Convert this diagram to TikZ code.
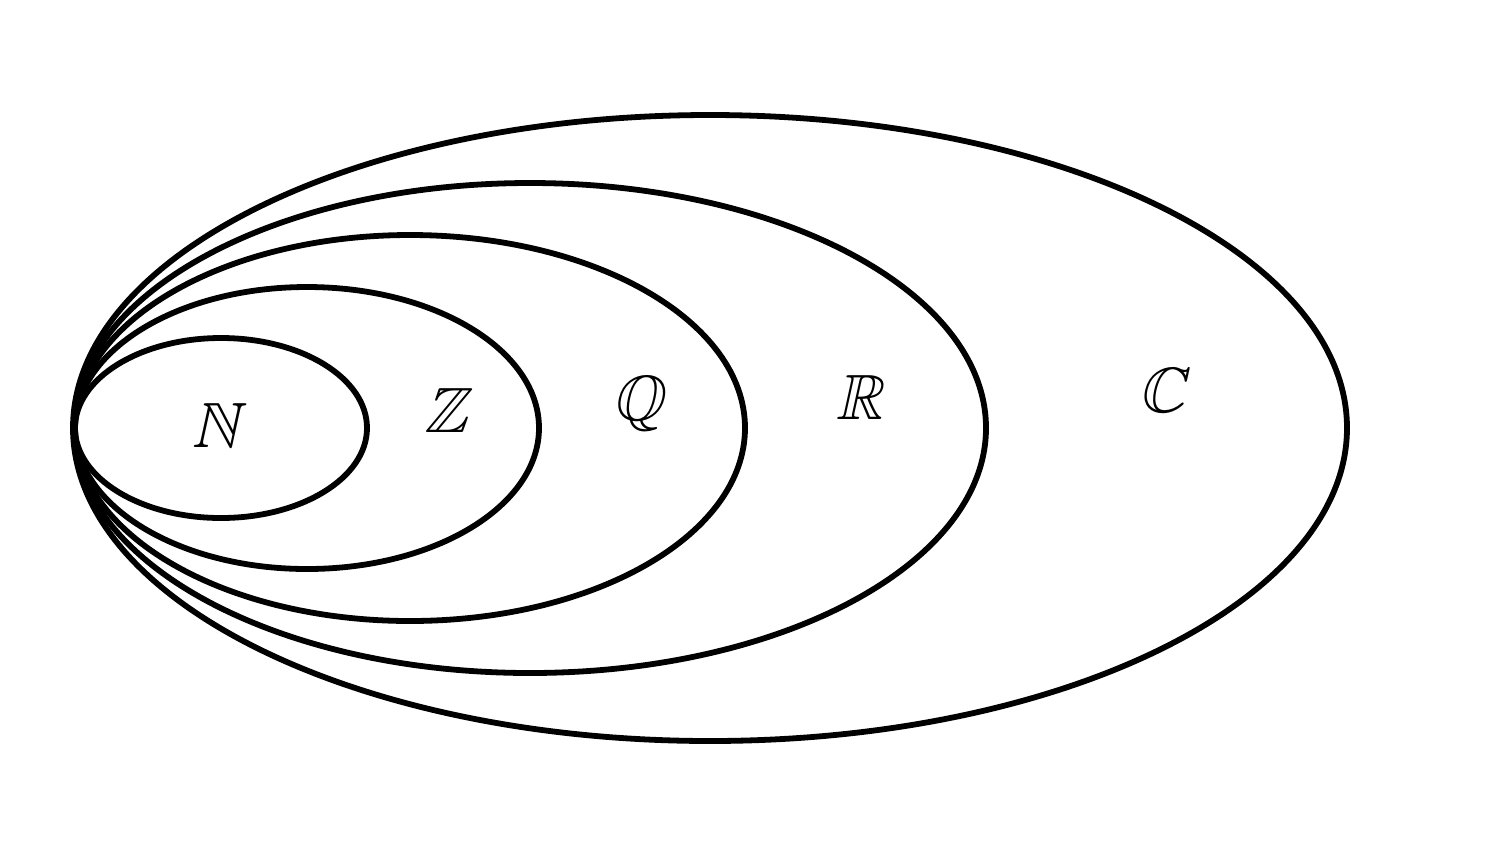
\documentclass[tikz,border=0pt]{standalone}
\usepackage{amssymb}
\begin{document}
\begin{tikzpicture}[x=0.5pt,y=-0.5pt,
  setline/.style={line width=2.9pt,black},
  setlabel/.style={inner sep=0pt,font=\fontsize{32}{36}\selectfont,xslant=0.22}]
\useasboundingbox (0,0) rectangle (1488,858);
\draw[setline] (221,428) ellipse [x radius=146, y radius=90];
\draw[setline] (307,428) ellipse [x radius=232, y radius=141];
\draw[setline] (410,428) ellipse [x radius=335, y radius=193];
\draw[setline] (530,428) ellipse [x radius=456, y radius=245];
\draw[setline] (710,428) ellipse [x radius=637, y radius=313];
\node[setlabel] (N) at (220,425) {$\mathbb{N}$};
\node[setlabel] (Z) at (451,410) {$\mathbb{Z}$};
\node[setlabel] (Q) at (641,404) {$\mathbb{Q}$};
\node[setlabel] (R) at (864,397) {$\mathbb{R}$};
\node[setlabel] (C) at (1166,390) {$\mathbb{C}$};
\end{tikzpicture}
\end{document}
